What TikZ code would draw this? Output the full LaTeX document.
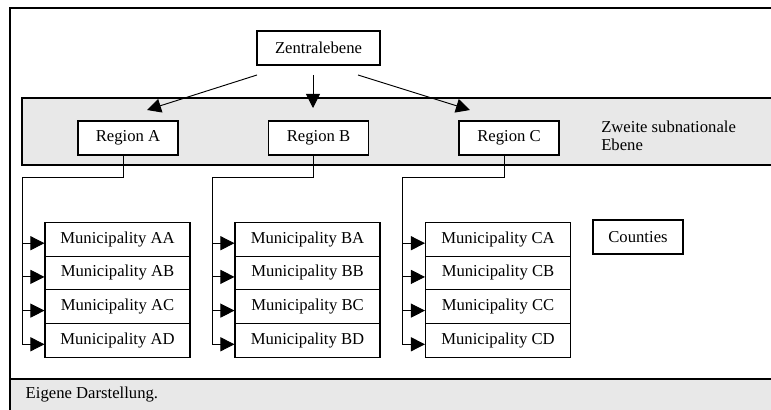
\documentclass[tikz,border=0pt]{standalone}
\usepackage{fontspec}
\setmainfont{Liberation Serif}
\usetikzlibrary{arrows.meta,calc}

\begin{document}
\begin{tikzpicture}[x=0.75pt,y=-0.75pt,
    txt/.style={font=\fontsize{12.5}{13.5}\selectfont},
    box/.style={txt,draw,line width=0.8pt,fill=white,inner sep=0pt,minimum height=25.5pt},
    muni/.style={box,minimum width=108.75pt,minimum height=25.3pt},
    arr/.style={-{Triangle[length=10.5pt,width=10.5pt]},line width=0.7pt},
    line/.style={line width=0.7pt}]
  \useasboundingbox (0,0) rectangle (771,410);

  % frame, gray band and footer
  \fill [color=black!9] (22,98) rectangle (771,165);
  \draw [line width=0.8pt] (771,98) -- (22,98) -- (22,165) -- (771,165);
  \fill [color=black!9] (10,379) rectangle (771,410);
  \draw [line width=0.9pt] (10,379) -- (771,379);
  \draw [line width=0.9pt] (771,8) -- (10,8) -- (10,410);

  \node[box,minimum width=92.25pt] (zentral) at (318.5,48) {Zentralebene};

  \node[box,minimum width=75pt] (regA) at (128,138) {Region A};
  \node[box,minimum width=75pt] (regB) at (318.5,138) {Region B};
  \node[box,minimum width=75pt] (regC) at (509,138) {Region C};
  \node[txt,anchor=west,align=left,inner sep=0pt] (zweite) at (601,136) {Zweite subnationale\\Ebene};

  \node[muni] (mAA) at (117.5,239.2) {Municipality AA};
  \node[muni] (mAB) at (117.5,272.9) {Municipality AB};
  \node[muni] (mAC) at (117.5,306.6) {Municipality AC};
  \node[muni] (mAD) at (117.5,340.3) {Municipality AD};

  \node[muni] (mBA) at (307.5,239.2) {Municipality BA};
  \node[muni] (mBB) at (307.5,272.9) {Municipality BB};
  \node[muni] (mBC) at (307.5,306.6) {Municipality BC};
  \node[muni] (mBD) at (307.5,340.3) {Municipality BD};

  \node[muni] (mCA) at (498,239.2) {Municipality CA};
  \node[muni] (mCB) at (498,272.9) {Municipality CB};
  \node[muni] (mCC) at (498,306.6) {Municipality CC};
  \node[muni] (mCD) at (498,340.3) {Municipality CD};

  \node[box,minimum width=67.5pt] (counties) at (638,237) {Counties};

  \node[txt,anchor=west] (quelle) at (21,395) {Eigene Darstellung.};

  % arrows from the central level
  \coordinate (zA) at (257,75);
  \coordinate (zB) at (313,75);
  \coordinate (zC) at (358,75);
  \coordinate (rA) at (147,110);
  \coordinate (rB) at (313,108);
  \coordinate (rC) at (470,110);
  \draw[arr] (zA) -- (rA);
  \draw[arr] (zB) -- (rB);
  \draw[arr] (zC) -- (rC);

  % region -> municipalities
  \coordinate (trunkA) at (22,177);
  \coordinate (trunkB) at (212,177);
  \coordinate (trunkC) at (402,177);
  \draw[line] ($(regA.south)+(-5,0)$) |- (trunkA);
  \draw[line] ($(regB.south)+(-5,0)$) |- (trunkB);
  \draw[line] ($(regC.south)+(-5,0)$) |- (trunkC);

  \draw[arr] (trunkA) |- ($(mAA.west)+(0,4)$);
  \draw[arr] (trunkA) |- ($(mAB.west)+(0,4)$);
  \draw[arr] (trunkA) |- ($(mAC.west)+(0,4)$);
  \draw[arr] (trunkA) |- ($(mAD.west)+(0,4)$);

  \draw[arr] (trunkB) |- ($(mBA.west)+(0,4)$);
  \draw[arr] (trunkB) |- ($(mBB.west)+(0,4)$);
  \draw[arr] (trunkB) |- ($(mBC.west)+(0,4)$);
  \draw[arr] (trunkB) |- ($(mBD.west)+(0,4)$);

  \draw[arr] (trunkC) |- ($(mCA.west)+(0,4)$);
  \draw[arr] (trunkC) |- ($(mCB.west)+(0,4)$);
  \draw[arr] (trunkC) |- ($(mCC.west)+(0,4)$);
  \draw[arr] (trunkC) |- ($(mCD.west)+(0,4)$);
\end{tikzpicture}
\end{document}
